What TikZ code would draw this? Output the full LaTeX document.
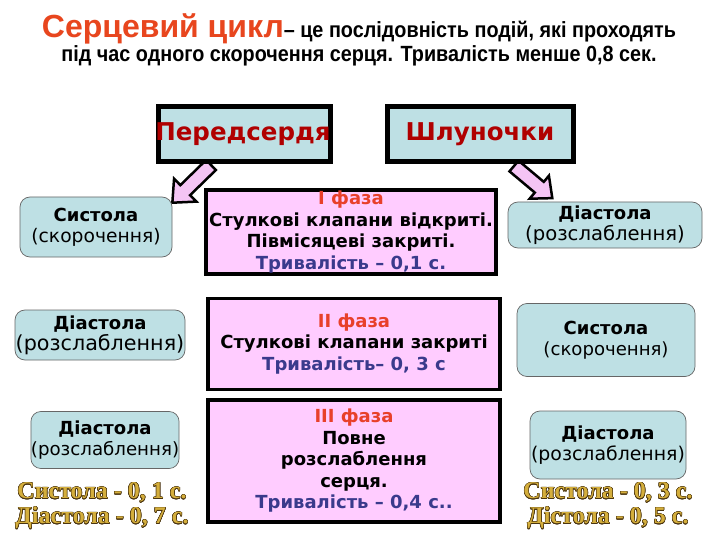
\documentclass[tikz,border=0pt]{standalone}
\usepackage{fontspec}
\usepackage[copies]{contour}
\contourlength{0.5pt}
\contournumber{16}
\setmainfont{DejaVu Sans}
\newfontfamily\arialf{Liberation Sans}
\newfontfamily\narrowf[FakeStretch=0.9]{Liberation Sans}
\newfontfamily\goldf{Liberation Serif}
\definecolor{titleorange}{HTML}{E8461E}
\definecolor{darkred}{HTML}{B00000}
\definecolor{boxblue}{HTML}{BEE0E4}
\definecolor{pinkfill}{HTML}{FFCCFF}
\definecolor{arrowpink}{HTML}{F4C4F4}
\definecolor{phred}{HTML}{E8402A}
\definecolor{durblue}{HTML}{3A3A8C}
\definecolor{goldc}{HTML}{D4AE3C}
\definecolor{goldedge}{HTML}{4A3410}
\newcommand{\fsz}[2]{\fontsize{#1}{#2}\selectfont}
\newcommand{\reg}[2]{{\fontsize{#1}{21}\selectfont #2}}
\newcommand{\gold}[1]{\contour{goldedge}{\textcolor{goldc}{#1}}}
\tikzset{
  x=1pt, y=-1pt,
  headbox/.style={draw=black, line width=5pt, fill=boxblue, inner sep=0pt},
  headtext/.style={font=\bfseries\fsz{24.5}{28}, text=darkred, inner sep=0pt},
  phasebox/.style={draw=black, line width=3.5pt, fill=pinkfill, inner sep=0pt,
    align=center, font=\bfseries\fsz{18}{21.5}},
  statebox/.style={draw=gray!80!black, line width=0.7pt, fill=boxblue, rounded corners=10pt,
    inner sep=0pt, align=center, font=\fsz{18}{21}},
  blockarrow/.style={draw=black, line width=2.5pt, fill=arrowpink, line join=miter},
  goldtext/.style={font=\goldf\bfseries\fsz{24}{25}, align=center, inner sep=0pt}
}
\begin{document}
\begin{tikzpicture}
\useasboundingbox[fill=white] (0,0) rectangle (720,540);
% title
\node[inner sep=0pt] (t1) at (359,29) {{\arialf\bfseries\fsz{32}{34}\color{titleorange}Серцевий цикл}{\narrowf\bfseries\fsz{22}{24}– це послідовність подій, які проходять}};
\node[inner sep=0pt, font=\narrowf\bfseries\fsz{22}{24}] (t2) at (359,56) {під час одного скорочення серця. Тривалість менше 0,8 сек.};
% block arrows
\begin{scope}[shift={(211,165)}, rotate=224.3]
  \draw[blockarrow] (0,-7) -- (36,-7) -- (36,-16) -- (54,0) -- (36,16) -- (36,7) -- (0,7) -- cycle;
\end{scope}
\begin{scope}[shift={(514,166)}, rotate=-40]
  \draw[blockarrow] (0,-7) -- (33,-7) -- (33,-15) -- (50,0) -- (33,15) -- (33,7) -- (0,7) -- cycle;
\end{scope}
% header boxes
\node[headbox, minimum width=172pt, minimum height=55pt] (atria) at (244,134.5) {};
\node[headtext] (atriat) at (243,134.5) {Передсердя};
\node[headbox, minimum width=186pt, minimum height=55pt] (vent) at (480,134.5) {};
\node[headtext] (ventt) at (480,134.5) {Шлуночки};
% phase boxes
\node[phasebox, minimum width=290pt, minimum height=84pt] (ph1) at (351,232)
  {{\color{phred}I фаза}\\Стулкові клапани відкриті.\\Півмісяцеві закриті.\\{\color{durblue}Тривалість – 0,1 с.}};
\node[phasebox, minimum width=292pt, minimum height=91pt] (ph2) at (354,344)
  {{\color{phred}II фаза}\\Стулкові клапани закриті\\{\color{durblue}Тривалість– 0, 3 с}};
\node[phasebox, minimum width=292pt, minimum height=122pt] (ph3) at (354,461)
  {{\color{phred}III фаза}\\Повне\\розслаблення\\серця.\\{\color{durblue}Тривалість – 0,4 с..}};
% state boxes left
\node[statebox, minimum width=152pt, minimum height=60pt] (sl1) at (96,227) {\textbf{Систола}\\\reg{18.7}{(скорочення)}};
\node[statebox, minimum width=170pt, minimum height=50pt] (sl2) at (100,335) {\textbf{Діастола}\\\reg{20.7}{(розслаблення)}};
\node[statebox, minimum width=146pt, minimum height=57pt] (sl3) at (105,440) {\textbf{Діастола}\\\reg{18.2}{(розслаблення)}};
% state boxes right
\node[statebox, minimum width=194pt, minimum height=46pt] (sr1) at (605,225) {\textbf{Діастола}\\\reg{19.6}{(розслаблення)}};
\node[statebox, minimum width=178pt, minimum height=73pt] (sr2) at (606,340) {\textbf{Систола}\\\reg{18.1}{(скорочення)}};
\node[statebox, minimum width=156pt, minimum height=68pt] (sr3) at (608,445) {\textbf{Діастола}\\\reg{18.9}{(розслаблення)}};
% gold summaries
\node[goldtext] (gl) at (102,506) {\gold{Систола - 0, 1 с.}\\\gold{Діастола - 0, 7 с.}};
\node[goldtext] (gr) at (608,506) {\gold{Систола - 0, 3 с.}\\\gold{Дістола - 0, 5 с.}};
\end{tikzpicture}
\end{document}
